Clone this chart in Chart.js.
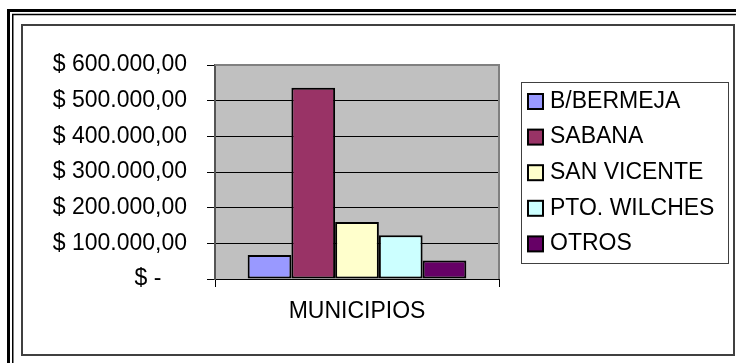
<!DOCTYPE html>
<html>
<head>
<meta charset="utf-8">
<script src="https://cdn.jsdelivr.net/npm/chart.js@4"></script>
<style>
  html, body { margin: 0; padding: 0; background: #fff; }
  canvas { display: block; }
</style>
</head>
<body>
<canvas id="chart" width="736" height="363"></canvas>
<script>
// Data
const categories = ['MUNICIPIOS'];
const seriesNames = ['B/BERMEJA', 'SABANA', 'SAN VICENTE', 'PTO. WILCHES', 'OTROS'];
const seriesValues = [67000, 536000, 160000, 123000, 52000];
const yTickValues = [0, 100000, 200000, 300000, 400000, 500000, 600000];
const yTickLabels = ['$ -    ', '$ 100.000,00', '$ 200.000,00', '$ 300.000,00', '$ 400.000,00', '$ 500.000,00', '$ 600.000,00'];

// Palette
const seriesColors = ['#9999FF', '#993366', '#FFFFCC', '#CCFFFF', '#660066'];

const FONT = "'Liberation Sans', Arial, Helvetica, sans-serif";
const FONT_SIZE = 23;

Chart.defaults.font.family = FONT;
Chart.defaults.font.size = FONT_SIZE;
Chart.defaults.color = '#000';

// Page frame, chart border and grey plot background
const framePlugin = {
  id: 'frame',
  beforeDraw(chart) {
    const ctx = chart.ctx;
    const a = chart.chartArea;
    ctx.save();
    ctx.fillStyle = '#fff';
    ctx.fillRect(0, 0, chart.width, chart.height);
    ctx.strokeStyle = '#000';
    ctx.lineWidth = 3;
    ctx.strokeRect(8.5, 10.5, chart.width + 40, chart.height + 40);
    ctx.lineWidth = 1.5;
    ctx.strokeRect(12.75, 14.5, chart.width + 40, chart.height + 40);
    ctx.strokeStyle = '#404040';
    ctx.lineWidth = 2;
    ctx.strokeRect(22, 25, chart.width - 24, chart.height - 33);
    ctx.fillStyle = '#C0C0C0';
    ctx.fillRect(a.left, a.top, a.right - a.left, a.bottom - a.top);
    ctx.restore();
  },
  afterDatasetsDraw(chart) {
    const ctx = chart.ctx;
    const a = chart.chartArea;
    ctx.save();
    ctx.strokeStyle = '#808080';
    ctx.lineWidth = 2;
    ctx.beginPath();
    ctx.moveTo(a.left, a.top);
    ctx.lineTo(a.right, a.top);
    ctx.lineTo(a.right, a.bottom);
    ctx.stroke();
    ctx.restore();
  }
};

// Boxed legend to the right of the plot
const boxLegendPlugin = {
  id: 'boxLegend',
  afterDraw(chart) {
    const ctx = chart.ctx;
    const a = chart.chartArea;
    const box = { x: a.right + 22, y: 82, w: 207, h: 181 };
    const rowStart = 101.5, rowStep = 35.6, sw = 15;
    ctx.save();
    ctx.strokeStyle = '#404040';
    ctx.lineWidth = 1;
    ctx.strokeRect(box.x + 0.5, box.y + 0.5, box.w, box.h);
    ctx.font = FONT_SIZE + 'px ' + FONT;
    ctx.textBaseline = 'middle';
    ctx.textAlign = 'left';
    chart.data.datasets.forEach((ds, i) => {
      const cy = rowStart + i * rowStep;
      const sx = box.x + 7;
      ctx.fillStyle = ds.backgroundColor;
      ctx.fillRect(sx, cy - sw / 2, sw, sw);
      ctx.strokeStyle = '#000';
      ctx.lineWidth = 2;
      ctx.strokeRect(sx, cy - sw / 2, sw, sw);
      ctx.fillStyle = '#000';
      ctx.fillText(ds.label, box.x + 29, cy);
    });
    ctx.restore();
  }
};

new Chart(document.getElementById('chart'), {
  type: 'bar',
  data: {
    labels: categories,
    datasets: seriesNames.map((name, i) => ({
      label: name,
      data: [seriesValues[i]],
      backgroundColor: seriesColors[i],
      borderColor: '#000',
      borderWidth: 2,
      borderSkipped: false,
      categoryPercentage: 0.77,
      barPercentage: 1.0
    }))
  },
  options: {
    responsive: false,
    animation: false,
    devicePixelRatio: 1,
    layout: { padding: { left: 0, top: 65, right: 237, bottom: 0 } },
    plugins: {
      legend: { display: false },
      tooltip: { enabled: false }
    },
    scales: {
      x: {
        offset: true,
        grid: {
          display: true,
          offset: true,
          drawOnChartArea: false,
          drawTicks: true,
          tickLength: 8,
          color: '#000',
          tickColor: '#000'
        },
        border: { display: true, color: '#000', width: 1 },
        ticks: { padding: 11, maxRotation: 0 },
        afterFit(scale) { scale.height = 84; }
      },
      y: {
        min: 0,
        max: 600000,
        ticks: {
          stepSize: 100000,
          padding: 20,
          callback: (value) => yTickLabels[yTickValues.indexOf(value)]
        },
        grid: {
          color: (c) => (c.tick && c.tick.value === 600000 ? '#808080' : '#000'),
          tickColor: '#000',
          tickLength: 8,
          lineWidth: 1
        },
        border: { display: true, color: '#555', width: 2 },
        afterFit(scale) { scale.width = 215; }
      }
    }
  },
  plugins: [framePlugin, boxLegendPlugin]
});
</script>
</body>
</html>
